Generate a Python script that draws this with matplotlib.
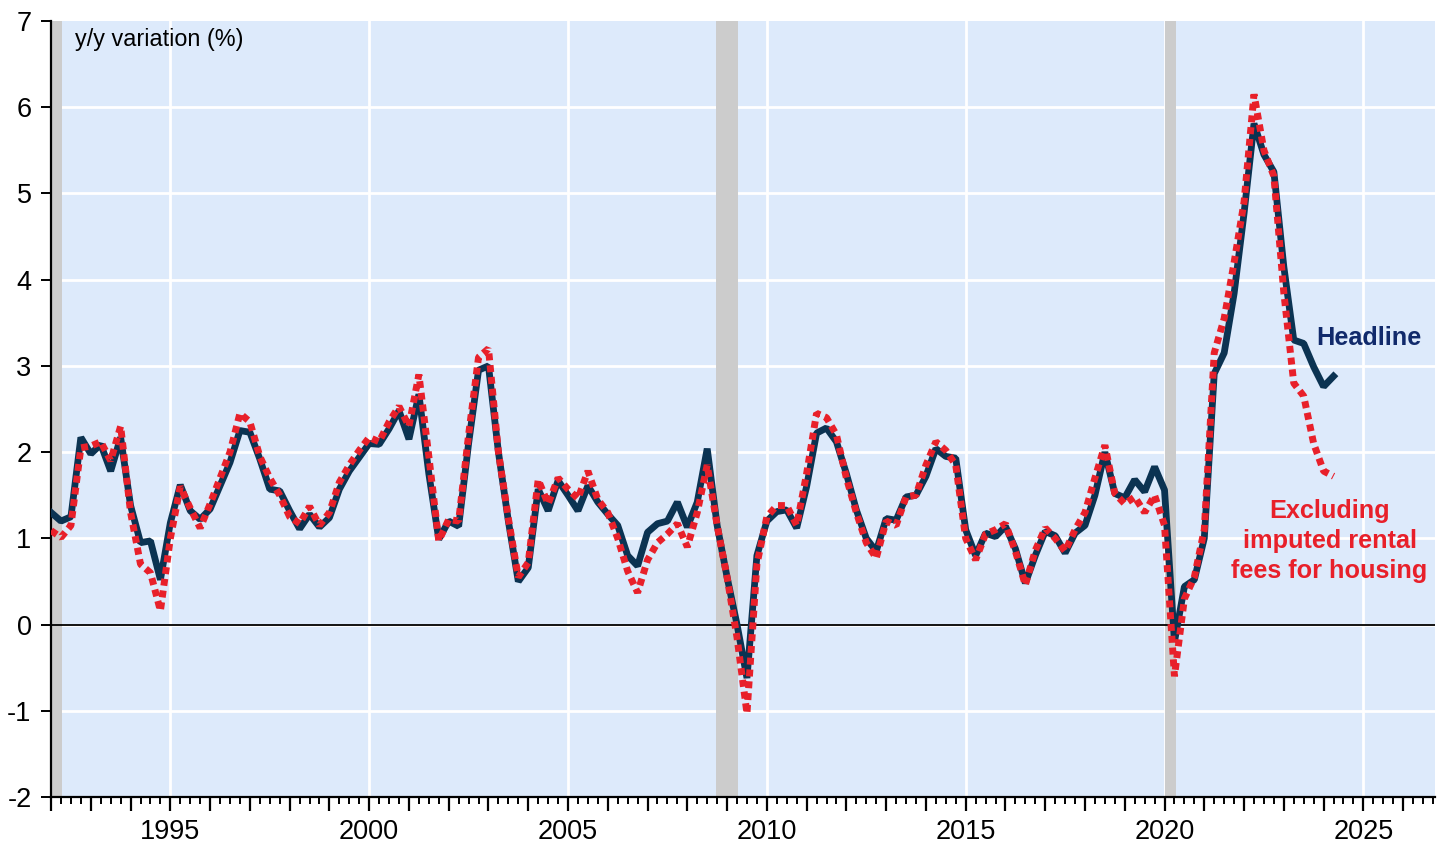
import numpy as np
import matplotlib
matplotlib.use("Agg")
import matplotlib.pyplot as plt
from matplotlib.ticker import MultipleLocator, FuncFormatter

plt.rcParams["font.family"] = ["Liberation Sans", "DejaVu Sans"]

# quarterly data, first quarter of 1992 to second quarter of 2024
start_year = 1992

headline = [
    1.30, 1.20, 1.25, 2.17,   # 1992
    1.98, 2.09, 1.78, 2.17,   # 1993
    1.38, 0.95, 0.97, 0.52,   # 1994
    1.18, 1.62, 1.32, 1.22,   # 1995
    1.34, 1.61, 1.88, 2.25,   # 1996
    2.23, 1.92, 1.57, 1.55,   # 1997
    1.32, 1.11, 1.28, 1.13,   # 1998
    1.24, 1.57, 1.78, 1.94,   # 1999
    2.10, 2.09, 2.27, 2.48,   # 2000
    2.15, 2.67, 1.75, 0.99,   # 2001
    1.20, 1.14, 2.10, 2.95,   # 2002
    3.00, 2.00, 1.20, 0.50,   # 2003
    0.66, 1.57, 1.32, 1.67,   # 2004
    1.50, 1.32, 1.61, 1.42,   # 2005
    1.28, 1.15, 0.80, 0.68,   # 2006
    1.07, 1.17, 1.20, 1.42,   # 2007
    1.13, 1.42, 2.04, 1.15,   # 2008
    0.55, 0.00, -0.62, 0.80,  # 2009
    1.20, 1.31, 1.33, 1.12,   # 2010
    1.60, 2.22, 2.28, 2.12,   # 2011
    1.75, 1.33, 1.00, 0.85,   # 2012
    1.23, 1.21, 1.48, 1.50,   # 2013
    1.72, 2.04, 1.95, 1.93,   # 2014
    1.10, 0.80, 1.06, 1.02,   # 2015
    1.14, 0.88, 0.48, 0.80,   # 2016
    1.08, 1.03, 0.83, 1.06,   # 2017
    1.15, 1.50, 2.00, 1.52,   # 2018
    1.47, 1.68, 1.54, 1.83,   # 2019
    1.56, -0.20, 0.44, 0.52,  # 2020
    1.00, 2.91, 3.15, 3.84,   # 2021
    4.77, 5.81, 5.45, 5.25,   # 2022
    4.15, 3.30, 3.26, 2.99,   # 2023
    2.76, 2.88,               # 2024
]

excl_rent = [
    1.09, 1.01, 1.15, 2.05,   # 1992
    2.07, 2.12, 1.90, 2.30,   # 1993
    1.30, 0.70, 0.60, 0.16,   # 1994
    1.00, 1.60, 1.35, 1.12,   # 1995
    1.40, 1.70, 2.00, 2.45,   # 1996
    2.35, 1.95, 1.70, 1.50,   # 1997
    1.25, 1.17, 1.37, 1.15,   # 1998
    1.30, 1.65, 1.85, 2.02,   # 1999
    2.17, 2.12, 2.35, 2.53,   # 2000
    2.30, 2.90, 1.95, 0.97,   # 2001
    1.22, 1.20, 2.20, 3.10,   # 2002
    3.20, 2.00, 1.23, 0.55,   # 2003
    0.72, 1.68, 1.40, 1.70,   # 2004
    1.57, 1.46, 1.78, 1.45,   # 2005
    1.30, 1.00, 0.62, 0.37,   # 2006
    0.75, 0.95, 1.05, 1.17,   # 2007
    0.90, 1.30, 1.85, 1.15,   # 2008
    0.55, -0.15, -1.03, 0.70, # 2009
    1.25, 1.38, 1.38, 1.15,   # 2010
    1.75, 2.45, 2.40, 2.20,   # 2011
    1.70, 1.30, 0.95, 0.77,   # 2012
    1.20, 1.15, 1.48, 1.50,   # 2013
    1.85, 2.12, 2.02, 1.85,   # 2014
    1.00, 0.75, 1.05, 1.10,   # 2015
    1.17, 0.85, 0.46, 0.86,   # 2016
    1.12, 1.00, 0.85, 1.10,   # 2017
    1.30, 1.70, 2.08, 1.52,   # 2018
    1.40, 1.48, 1.30, 1.50,   # 2019
    1.15, -0.60, 0.30, 0.55,  # 2020
    1.10, 3.15, 3.55, 4.20,   # 2021
    4.90, 6.15, 5.50, 5.20,   # 2022
    3.85, 2.80, 2.65, 2.10,   # 2023
    1.78, 1.72,               # 2024
]

# recession periods (start, end) in decimal years
recessions = [(1992.0, 1992.28), (2008.72, 2009.28), (2020.0, 2020.28)]

NAVY = "#0b3352"
RED = "#e8202a"

x = start_year + np.arange(len(headline)) * 0.25

fig = plt.figure(figsize=(14.42, 8.46), dpi=100)
ax = fig.add_axes([0.0354, 0.0579, 0.9597, 0.9173])
ax.set_facecolor("#ddeafb")

for r0, r1 in recessions:
    ax.axvspan(r0, r1, color="#cccccc", lw=0, zorder=1)

# grid: horizontal every unit, vertical every 5 years
for yv in range(-1, 7):
    ax.axhline(yv, color="white", lw=2, zorder=0.5)
for xv in range(1995, 2030, 5):
    ax.axvline(xv, color="white", lw=2, zorder=0.5)
ax.axhline(0, color="black", lw=1.3, zorder=2)

ax.plot(x, headline, color=NAVY, lw=4.9, solid_joinstyle="bevel", zorder=3)
ax.plot(x, excl_rent, color=RED, lw=5.0, linestyle=(0, (1, 0.7)),
        dash_capstyle="butt", dash_joinstyle="bevel", zorder=4)

ax.set_xlim(1992.0, 2026.8)
ax.set_ylim(-2, 7)

ax.xaxis.set_major_locator(MultipleLocator(1))
ax.xaxis.set_minor_locator(MultipleLocator(0.25))
ax.xaxis.set_major_formatter(
    FuncFormatter(lambda v, p: f"{int(round(v))}" if round(v) % 5 == 0 else ""))
ax.yaxis.set_major_locator(MultipleLocator(1))
ax.yaxis.set_major_formatter(FuncFormatter(lambda v, p: f"{v:.0f}"))

ax.tick_params(axis="x", which="major", length=10, width=1.6, direction="out",
               labelsize=19.5, pad=6)
ax.tick_params(axis="x", which="minor", length=5, width=1.4, direction="out")
ax.tick_params(axis="y", which="major", length=7, width=1.4, direction="out",
               labelsize=19.5, pad=7)

for side in ["top", "right"]:
    ax.spines[side].set_visible(False)
for side in ["left", "bottom"]:
    ax.spines[side].set_linewidth(1.6)

ax.text(1992.6, 6.79, "y/y variation (%)", fontsize=16.8, va="center", ha="left",
        zorder=5)
ax.text(2025.13, 3.32, "Headline", color="#112a6b", fontsize=18.2, fontweight="bold",
        ha="center", va="center", zorder=5)
ax.text(2024.15, 0.97, "Excluding\nimputed rental\nfees for housing", color=RED,
        fontsize=18.2, fontweight="bold", ha="center", va="center",
        linespacing=1.3, zorder=5)

fig.savefig("out.png", dpi=100)
plt.close(fig)
